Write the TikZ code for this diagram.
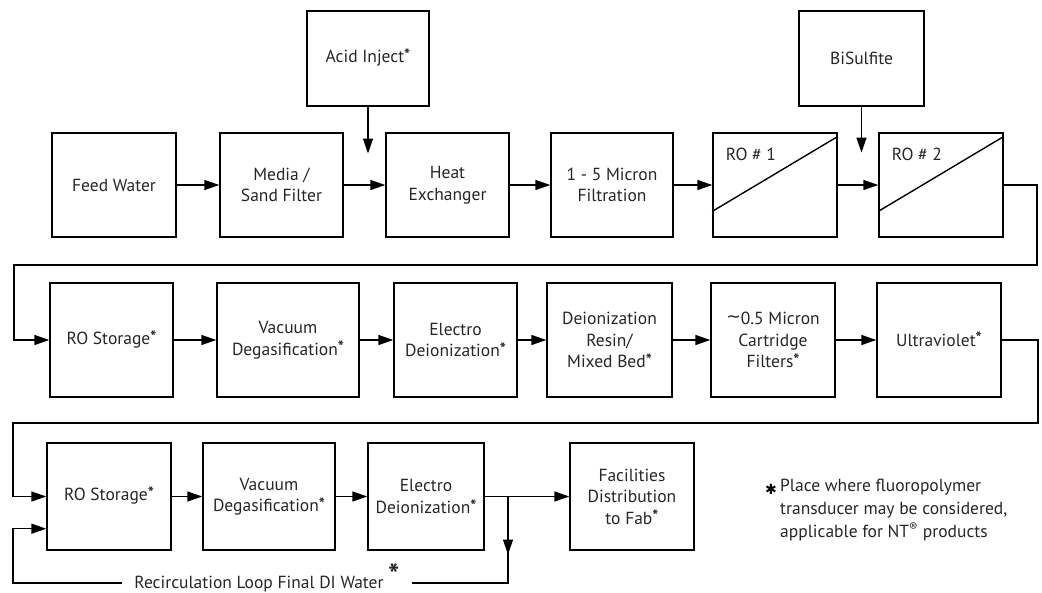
\documentclass[tikz,border=0pt]{standalone}
\usepackage{fontspec}
\setmainfont{PT Sans}
\newfontfamily\symfont{DejaVu Sans}
\usetikzlibrary{calc, arrows.meta}
\newcommand{\fp}{\smash{\raisebox{.12em}{\bfseries\fontsize{16}{16}\selectfont *}}}

\begin{document}
\begin{tikzpicture}[x=1pt, y=-1pt,
    unit/.style={draw, line width=1.4pt, minimum height=104pt, align=center, inner sep=0pt,
        text=black!85, font=\fontsize{17.5}{21.5}\selectfont},
    flow/.style={line width=1.4pt, -{Triangle[length=15pt, width=10pt]}},
    pipe/.style={line width=1.4pt}]
    \useasboundingbox (0,0) rectangle (1042,592);

    % pretreatment
    \node[unit, minimum width=124pt] (feed) at (114,185) {Feed Water};
    \node[unit, minimum width=123pt] (media) at (281.5,185) {Media /\\Sand Filter};
    \node[unit, minimum width=123pt] (heat) at (447.5,185) {Heat\\Exchanger};
    \node[unit, minimum width=122pt] (micron) at (612,185) {1 - 5 Micron\\Filtration};
    \node[unit, minimum width=124pt] (ro1) at (775,185) {};
    \node[unit, minimum width=124pt] (ro2) at (941,185) {};
    \node[unit, minimum width=122pt, minimum height=95pt] (acid) at (368,58.5) {Acid Inject\fp};
    \node[unit, minimum width=125pt, minimum height=95pt] (bisulf) at (861.5,58.5) {BiSulfite};

    \foreach \r/\n in {ro1/1, ro2/2} {
        \draw[line width=1.4pt] ($(\r.north west)!0.75!(\r.south west)$) -- ($(\r.north east)!0.04!(\r.south east)$);
        \node[anchor=west, text=black!85, font=\fontsize{17.5}{21.5}\selectfont] at ($(\r.north west)+(10,22)$) {RO \# \n};
    }

    \draw[flow] (feed) -- (media);
    \draw[flow] (media) -- (heat);
    \draw[flow] (heat) -- (micron);
    \draw[flow] (micron) -- (ro1);
    \draw[flow] (ro1) -- (ro2);
    \draw[flow] (acid) -- ++(0,95);
    \draw[flow] (bisulf) -- ++(0,94);

    % polishing
    \node[unit, minimum width=123pt, minimum height=114pt] (store1) at (111.5,340) {RO Storage\fp};
    \node[unit, minimum width=142pt, minimum height=114pt] (vac1) at (288,340) {Vacuum\\Degasification\fp};
    \node[unit, minimum width=123pt, minimum height=114pt] (edi1) at (455.5,340) {Electro\\Deionization\fp};
    \node[unit, minimum width=125pt, minimum height=114pt] (resin) at (609.5,340) {Deionization\\Resin/\\Mixed Bed\fp};
    \node[unit, minimum width=124pt, minimum height=114pt] (cart) at (773,340) {\raisebox{.1em}{\symfont\char"223C}0.5 Micron\\Cartridge\\Filters\fp};
    \node[unit, minimum width=124pt, minimum height=114pt] (uv) at (939,340) {Ultraviolet\fp};

    \coordinate (r1) at (1037,265);
    \coordinate (l1) at (14,265);
    \draw[flow] (ro2.east) -| (r1) -- (l1) |- (store1.west);
    \draw[flow] (store1) -- (vac1);
    \draw[flow] (vac1) -- (edi1);
    \draw[flow] (edi1) -- (resin);
    \draw[flow] (resin) -- (cart);
    \draw[flow] (cart) -- (uv);

    % final loop
    \node[unit, minimum width=124pt, minimum height=107pt] (store2) at (109,496.5) {RO Storage\fp};
    \node[unit, minimum width=132pt, minimum height=107pt] (vac2) at (269,496.5) {Vacuum\\Degasification\fp};
    \node[unit, minimum width=116pt, minimum height=107pt] (edi2) at (426,496.5) {Electro\\Deionization\fp};
    \node[unit, minimum width=124pt, minimum height=107pt] (fab) at (632,496.5) {Facilities\\Distribution\\to Fab\fp};

    \coordinate (r2) at (1038,423);
    \coordinate (l2) at (13,423);
    \draw[flow] (uv.east) -| (r2) -- (l2) |- (store2.west);
    \draw[flow] (store2) -- (vac2);
    \draw[flow] (vac2) -- (edi2);
    \draw[flow] (edi2) -- (fab);

    \coordinate (jn) at (508,496.5);
    \coordinate (lr) at (508,583);
    \coordinate (ll) at (13,583);
    \node[text=black!85, font=\fontsize{17.5}{21.5}\selectfont, anchor=base, inner xsep=12pt] (loop) at (267,588)
        {Recirculation Loop Final DI Water \smash{\raisebox{.12em}{\bfseries\fontsize{30}{30}\selectfont *}}};
    \draw[pipe] (jn) -- (lr) -- (lr -| loop.east);
    \draw[flow] (jn) -- ++(0,58);
    \coordinate (back) at ($(store2.south west)+(0,-22)$);
    \draw[flow] (ll -| loop.west) -- (ll) |- (back);

    % note
    \node[text=black!85, font=\fontsize{17.5}{23}\selectfont, anchor=north west, align=left, inner sep=0pt] (note) at (780,479)
        {Place where fluoropolymer\\transducer may be considered,\\applicable for NT\textsuperscript{®} products};
    \node[font=\symfont\fontsize{14}{14}\selectfont, anchor=east, inner sep=0pt] (star) at ($(note.north west)+(-3,10)$) {✱};
\end{tikzpicture}
\end{document}
